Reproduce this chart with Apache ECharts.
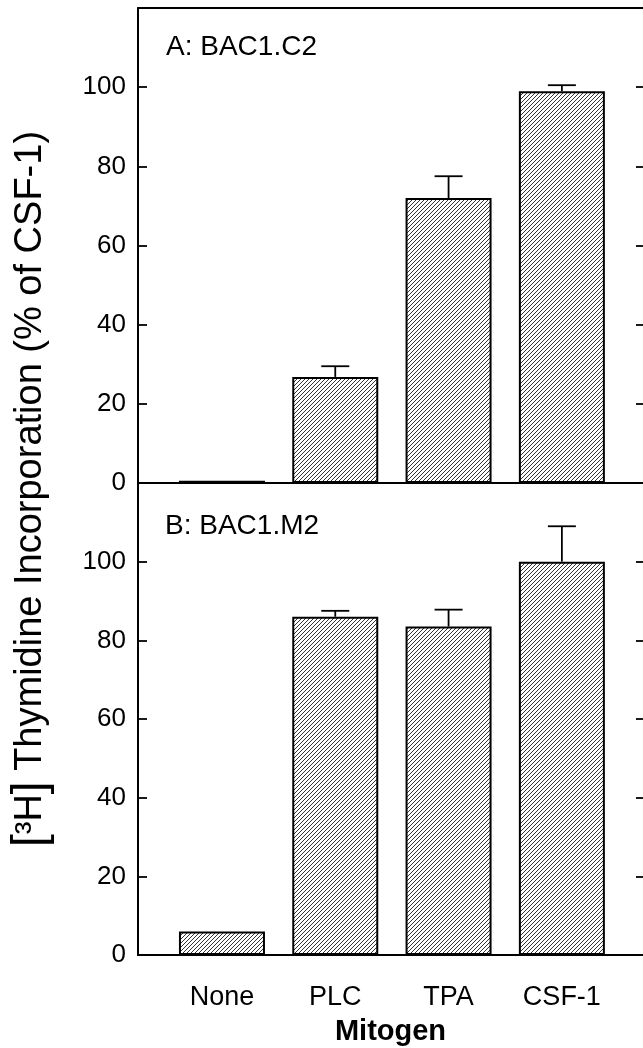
<!DOCTYPE html>
<html>
<head>
<meta charset="utf-8">
<script src="https://cdn.jsdelivr.net/npm/echarts@6/dist/echarts.min.js"></script>
<style>
    html, body { margin: 0; padding: 0; background: #fff; }
    #chart { width: 643px; height: 1048px; }
</style>
</head>
<body>
<div id="chart"></div>
<script>
    // 数据
    const categories = ['None', 'PLC', 'TPA', 'CSF-1'];
    const panelA = [0.6, 26.8, 72, 99];
    const errTopA = [null, 29.5, 77.5, 100.5];
    const panelB = [6, 86, 83.5, 100];
    const errTopB = [null, 87.5, 87.8, 109];
    const yTicks = [0, 20, 40, 60, 80, 100];

    const FONT = 'Liberation Sans';

    // 斜线填充
    function hatch() {
        const s = 4;
        const c = document.createElement('canvas');
        c.width = s; c.height = s;
        const g = c.getContext('2d');
        g.fillStyle = '#fff';
        g.fillRect(0, 0, s, s);
        g.strokeStyle = '#333';
        g.lineWidth = 1;
        g.beginPath();
        g.moveTo(0, s); g.lineTo(s, 0);
        g.moveTo(-1, 1); g.lineTo(1, -1);
        g.moveTo(s - 1, s + 1); g.lineTo(s + 1, s - 1);
        g.stroke();
        return c;
    }
    const fill = { image: hatch(), repeat: 'repeat' };

    function barData(vals) {
        return vals.map((v, i) => [i, v]);
    }
    function errData(vals, tops) {
        const out = [];
        tops.forEach((t, i) => { if (t != null) out.push([i, vals[i], t]); });
        return out;
    }
    function renderErr(params, api) {
        const base = api.coord([api.value(0), api.value(1)]);
        const top = api.coord([api.value(0), api.value(2)]);
        const half = 14;
        const st = { stroke: '#000', lineWidth: 1.8 };
        return {
            type: 'group',
            children: [
                { type: 'line', shape: { x1: top[0], y1: base[1], x2: top[0], y2: top[1] }, style: st },
                { type: 'line', shape: { x1: top[0] - half, y1: top[1], x2: top[0] + half, y2: top[1] }, style: st }
            ]
        };
    }

    const axisLine = { show: true, onZero: false, lineStyle: { color: '#000', width: 2 } };
    const X_MIN = -0.741, X_MAX = 3.716;

    function xAxisFor(gridIndex, showLabels) {
        return {
            type: 'value', gridIndex: gridIndex, min: X_MIN, max: X_MAX,
            axisLine: axisLine,
            axisTick: { show: false },
            splitLine: { show: false },
            axisLabel: showLabels ? {
                customValues: [0, 1, 2, 3],
                formatter: v => categories[Math.round(v)],
                color: '#000', fontFamily: FONT, fontSize: 27, margin: 29
            } : { show: false },
            name: showLabels ? 'Mitogen' : '',
            nameLocation: 'middle',
            nameGap: 62,
            nameTextStyle: { color: '#000', fontFamily: FONT, fontSize: 29, fontWeight: 'bold' }
        };
    }
    // 上边框
    const topAxis = {
        type: 'value', gridIndex: 0, position: 'top', min: X_MIN, max: X_MAX,
        axisLine: axisLine, axisTick: { show: false }, axisLabel: { show: false }, splitLine: { show: false }
    };
    function yLeft(gridIndex) {
        return {
            type: 'value', gridIndex: gridIndex, min: 0, max: 120, interval: 20,
            axisLine: axisLine,
            axisTick: { show: true, inside: true, length: 9, customValues: yTicks, lineStyle: { color: '#000', width: 1.8 } },
            axisLabel: { customValues: yTicks, color: '#000', fontFamily: FONT, fontSize: 26, margin: 12 },
            splitLine: { show: false }
        };
    }
    function yRight(gridIndex) {
        return {
            type: 'value', gridIndex: gridIndex, position: 'right', min: 0, max: 120, interval: 20,
            axisLine: { show: false, onZero: false },
            axisTick: { show: true, inside: true, length: 7, customValues: yTicks.slice(1), lineStyle: { color: '#000', width: 1.8 } },
            axisLabel: { show: false },
            splitLine: { show: false }
        };
    }

    const chart = echarts.init(document.getElementById('chart'));
    chart.setOption({
        animation: false,
        backgroundColor: '#fff',
        grid: [
            { left: 138, right: 0, top: 8, height: 475 },
            { left: 138, right: 0, top: 483, height: 472 }
        ],
        xAxis: [xAxisFor(0, false), xAxisFor(1, true), topAxis],
        yAxis: [yLeft(0), yRight(0), yLeft(1), yRight(1)],
        series: [
            {
                type: 'bar', xAxisIndex: 0, yAxisIndex: 0, barWidth: 86,
                data: barData(panelA),
                itemStyle: { color: fill, borderColor: '#000', borderWidth: 2 }
            },
            {
                type: 'custom', xAxisIndex: 0, yAxisIndex: 0,
                data: errData(panelA, errTopA), renderItem: renderErr, z: 3
            },
            {
                type: 'bar', xAxisIndex: 1, yAxisIndex: 2, barWidth: 86,
                data: barData(panelB),
                itemStyle: { color: fill, borderColor: '#000', borderWidth: 2 }
            },
            {
                type: 'custom', xAxisIndex: 1, yAxisIndex: 2,
                data: errData(panelB, errTopB), renderItem: renderErr, z: 3
            }
        ],
        graphic: [
            {
                type: 'text', left: 166, top: 33,
                style: { text: 'A: BAC1.C2', fill: '#000', font: '28px "Liberation Sans"' }
            },
            {
                type: 'text', left: 165, top: 512,
                style: { text: 'B: BAC1.M2', fill: '#000', font: '28px "Liberation Sans"' }
            },
            {
                type: 'text', x: 31, y: 489, rotation: Math.PI / 2,
                style: {
                    text: '{br|[}³H{br|]} Thymidine Incorporation (% of CSF-1)',
                    fill: '#000', font: '38px "Liberation Sans"',
                    align: 'center', verticalAlign: 'middle',
                    rich: { br: { fontSize: 46, fontFamily: FONT, fill: '#000' } }
                }
            }
        ]
    });
</script>
</body>
</html>
